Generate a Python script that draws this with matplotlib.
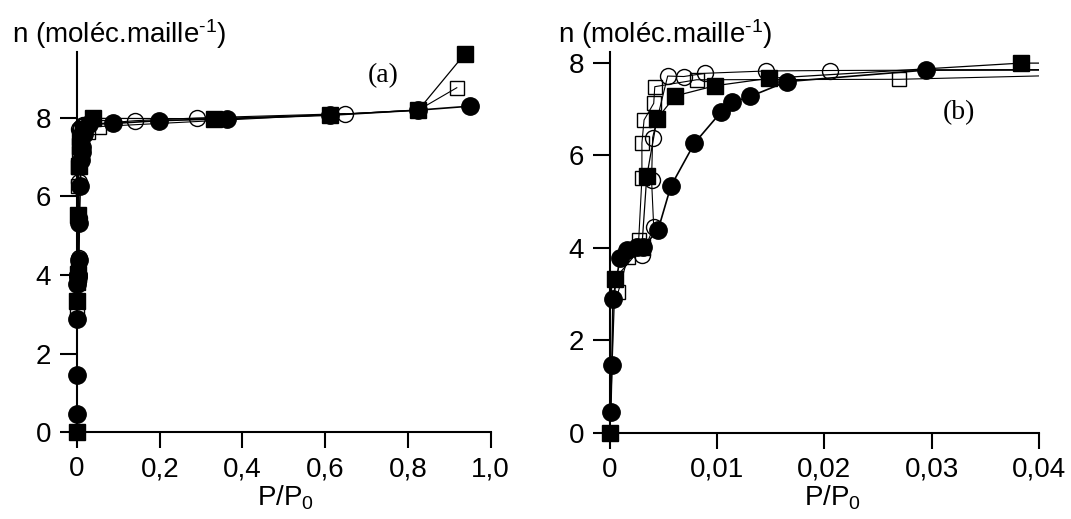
import numpy as np
import matplotlib
matplotlib.use("Agg")
import matplotlib.pyplot as plt

plt.rcParams['font.family'] = ['Liberation Sans', 'DejaVu Sans']
plt.rcParams['mathtext.fontset'] = 'custom'
plt.rcParams['mathtext.rm'] = 'Liberation Sans'
plt.rcParams['mathtext.it'] = 'Liberation Sans'

# filled circles
fc_x = [0.0001, 0.0002, 0.0003, 0.00096, 0.00158, 0.0025, 0.0031, 0.0045, 0.0057,
        0.0079, 0.0104, 0.0114, 0.0131, 0.0165, 0.0295, 0.088, 0.197, 0.362,
        0.612, 0.825, 0.950]
fc_y = [0.45, 1.46, 2.88, 3.77, 3.96, 4.01, 4.01, 4.38, 5.33,
        6.26, 6.94, 7.14, 7.27, 7.59, 7.84, 7.86, 7.93, 7.98,
        8.07, 8.20, 8.30]
# open circles
oc_x = [0.0030, 0.0041, 0.0039, 0.0040, 0.0054, 0.0069, 0.0089, 0.0146, 0.0205,
        0.14, 0.29, 0.648]
oc_y = [3.84, 4.44, 5.46, 6.38, 7.71, 7.70, 7.77, 7.82, 7.83,
        7.93, 8.00, 8.11]
# filled squares
fs_x = [0.0, 0.0005, 0.0030, 0.00345, 0.0044, 0.0061, 0.0098, 0.0148, 0.0383,
        0.33, 0.612, 0.825, 0.938]
fs_y = [0.0, 3.33, 4.02, 5.54, 6.78, 7.28, 7.50, 7.66, 7.99,
        7.98, 8.08, 8.20, 9.64]
# open squares
os_x = [0.0008, 0.0017, 0.0027, 0.0030, 0.0030, 0.0032, 0.0041, 0.0042, 0.0081,
        0.027, 0.052, 0.825, 0.918]
os_y = [3.05, 3.80, 4.17, 5.50, 6.26, 6.76, 7.12, 7.48, 7.63,
        7.64, 7.78, 8.20, 8.77]

series = [
    (os_x, os_y, dict(marker='s', ms=10.5, mfc='none', mec='black', mew=1.0), 0.8),
    (oc_x, oc_y, dict(marker='o', ms=11.5, mfc='none', mec='black', mew=1.0), 0.8),
    (fs_x, fs_y, dict(marker='s', ms=11, mfc='black', mec='black', mew=1.0), 0.9),
    (fc_x, fc_y, dict(marker='o', ms=12.5, mfc='black', mec='black', mew=1.0), 1.2),
]

xt_a = [0, 0.2, 0.4, 0.6, 0.8, 1.0]
xt_a_lbl = ['0', '0,2', '0,4', '0,6', '0,8', '1,0']
xt_b = [0, 0.01, 0.02, 0.03, 0.04]
xt_b_lbl = ['0', '0,01', '0,02', '0,03', '0,04']
yt = [0, 2, 4, 6, 8]

fig = plt.figure(figsize=(10.71, 5.19), dpi=100)
ax_a = fig.add_axes([0.0719, 0.1676, 0.3863, 0.7322])
ax_b = fig.add_axes([0.5693, 0.1663, 0.4008, 0.7335])


def draw(ax, xmax, ymax, xt, xlbl):
    for x, y, mk, lw in series:
        x = np.array(x)
        y = np.array(y)
        ax.plot(x, y, color='black', lw=lw, zorder=2)
        keep = x <= xmax
        ax.plot(x[keep], y[keep], ls='none', clip_on=False, zorder=3, **mk)
    ax.set_xlim(0, xmax)
    ax.set_ylim(0, ymax)
    ax.set_xticks(xt)
    ax.set_xticklabels(xlbl)
    ax.set_yticks(yt)
    ax.spines['top'].set_visible(False)
    ax.spines['right'].set_visible(False)
    for s in ('left', 'bottom'):
        ax.spines[s].set_linewidth(1.5)
    ax.tick_params(axis='y', direction='out', length=12.5, width=1.5, pad=6, labelsize=20)
    ax.tick_params(axis='x', direction='out', length=11.5, width=1.5, pad=6, labelsize=20)


draw(ax_a, 1.0, 9.68, xt_a, xt_a_lbl)
draw(ax_b, 0.04, 8.23, xt_b, xt_b_lbl)

ax_a.text(0.741, 9.08, '(a)', family='Liberation Serif', fontsize=20, ha='center', va='center')
ax_b.text(0.0325, 6.91, '(b)', family='Liberation Serif', fontsize=20, ha='center', va='center')

ylabel = r'n (moléc.maille$^{\text{-1}}$)'
fig.text(0.011, 0.917, ylabel, fontsize=20, ha='left', va='baseline')
fig.text(0.521, 0.917, ylabel, fontsize=20, ha='left', va='baseline')
fig.text(0.267, 0.026, 'P/P$_0$', fontsize=20, ha='center', va='baseline')
fig.text(0.777, 0.026, 'P/P$_0$', fontsize=20, ha='center', va='baseline')

fig.savefig('out.png', dpi=100)
